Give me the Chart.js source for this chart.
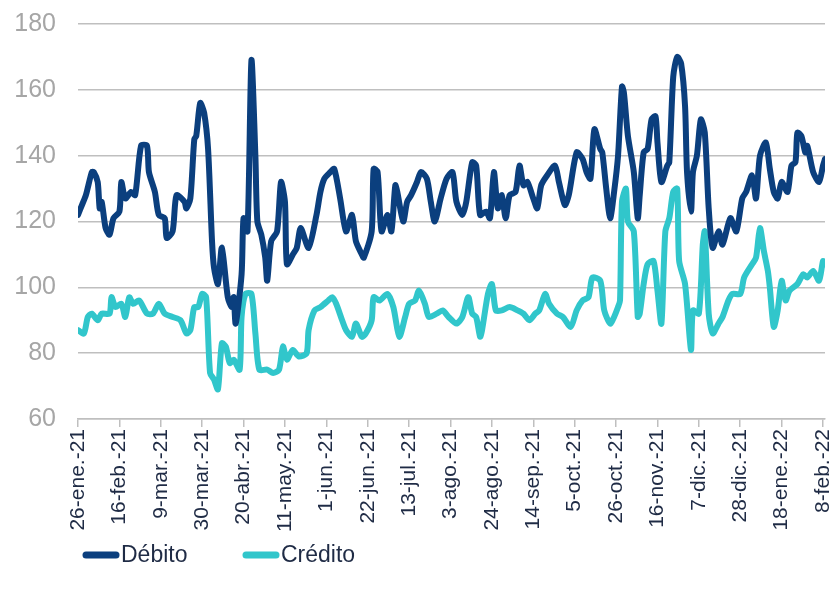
<!DOCTYPE html>
<html>
<head>
<meta charset="utf-8">
<script src="https://cdn.jsdelivr.net/npm/chart.js@4.4.1/dist/chart.umd.min.js"></script>
<style>
  html, body { margin: 0; padding: 0; background: #ffffff; }
  #wrap { width: 835px; height: 593px; }
</style>
</head>
<body>
<div id="wrap"><canvas id="tarjetas" width="835" height="593"></canvas></div>
<script>
// días desde el 26-ene-21
const etiquetasX = [
  "26-ene.-21", "16-feb.-21", "9-mar.-21", "30-mar.-21", "20-abr.-21", "11-may.-21",
  "1-jun.-21", "22-jun.-21", "13-jul.-21", "3-ago.-21", "24-ago.-21", "14-sep.-21",
  "5-oct.-21", "26-oct.-21", "16-nov.-21", "7-dic.-21", "28-dic.-21", "18-ene.-22", "8-feb.-22",
];
const ticksY = [60, 80, 100, 120, 140, 160, 180];

const debitoDias = [
  0, 2, 4, 7, 8, 10, 11, 12, 14, 16,
  18, 21, 22, 24, 27, 29, 32, 35, 36, 39,
  41, 44, 45, 48, 50, 54, 55, 57, 59, 60,
  62, 64, 66, 68, 69, 71, 73, 76, 78, 79,
  80, 83, 84, 86, 88, 90, 91, 93, 95, 96,
  98, 101, 103, 105, 106, 109, 111, 113, 117, 121,
  123, 125, 128, 130, 133, 136, 139, 141, 144, 145,
  149, 150, 152, 154, 157, 159, 161, 162, 165, 167,
  169, 172, 174, 177, 179, 181, 184, 187, 190, 192,
  195, 197, 200, 202, 204, 207, 209, 211, 213, 215,
  217, 219, 222, 224, 226, 228, 231, 233, 235, 238,
  242, 244, 247, 249, 253, 256, 258, 260, 262, 265,
  266, 268, 270, 272, 274, 276, 277, 279, 282, 284,
  285, 287, 289, 291, 293, 294, 296, 299, 300, 302,
  304, 306, 308, 309, 311, 312, 314, 316, 318, 320,
  322, 325, 327, 331, 334, 337, 339, 342, 344, 346,
  349, 351, 353, 355, 357, 360, 362, 364, 365, 367,
  369, 370, 373, 376, 378, 379,
];
const debitoValores = [
  122, 125, 128, 135, 135, 132, 124, 126, 118, 116,
  121, 123, 132, 127, 129, 128, 143, 143, 135, 129,
  122, 121, 115, 117, 128, 126, 124, 127, 145, 146,
  156, 153, 142, 114, 106, 101, 112, 97, 94, 97,
  89, 104, 121, 117, 169, 140, 120, 116, 109, 102,
  114, 117, 132, 126, 107, 110, 112, 118, 112, 122,
  129, 133, 135, 136, 127, 117, 122, 114, 110, 109,
  117, 136, 135, 117, 122, 117, 131, 129, 120, 126,
  128, 132, 135, 133, 126, 120, 127, 133, 135, 126,
  122, 126, 138, 137, 122, 123, 121, 135, 124, 128,
  121, 128, 129, 137, 131, 132, 127, 124, 131, 134,
  137, 132, 125, 128, 141, 139, 135, 133, 148, 142,
  141, 130, 121, 129, 140, 161, 159, 146, 135, 121,
  128, 141, 142, 151, 152, 144, 132, 137, 138, 164,
  170, 168, 155, 135, 123, 135, 140, 151, 147, 124,
  112, 117, 113, 121, 117, 127, 129, 134, 127, 140,
  144, 136, 129, 127, 132, 129, 137, 138, 147, 146,
  141, 143, 135, 132, 137, 139,
];

const creditoDias = [
  0, 3, 5, 7, 10, 12, 16, 17, 19, 22,
  24, 26, 28, 31, 35, 38, 41, 44, 48, 52,
  55, 57, 59, 61, 63, 65, 67, 69, 71, 73,
  75, 77, 79, 82, 83, 85, 88, 90, 92, 96,
  99, 102, 104, 106, 109, 112, 116, 117, 120, 123,
  127, 129, 131, 134, 136, 139, 141, 144, 146, 149,
  150, 153, 157, 160, 163, 166, 168, 171, 173, 176,
  178, 182, 185, 188, 192, 195, 198, 200, 202, 204,
  205, 208, 210, 212, 215, 219, 223, 226, 229, 232,
  234, 237, 239, 243, 246, 250, 253, 256, 259, 261,
  265, 267, 270, 272, 274, 275, 276, 278, 279, 282,
  284, 285, 287, 289, 292, 294, 296, 298, 300, 302,
  304, 305, 308, 311, 312, 315, 317, 318, 320, 322,
  325, 327, 330, 332, 336, 338, 342, 344, 346, 348,
  350, 351, 353, 355, 357, 359, 361, 365, 368, 370,
  373, 376, 378, 379,
];
const creditoValores = [
  87, 86, 91, 92, 90, 92, 92, 97, 94, 95,
  91, 97, 95, 96, 92, 92, 95, 92, 91, 90,
  86, 87, 94, 94, 98, 97, 74, 72, 69, 83,
  82, 77, 78, 75, 91, 98, 98, 86, 75, 75,
  74, 75, 82, 78, 81, 79, 80, 87, 93, 94,
  96, 97, 95, 90, 87, 85, 89, 85, 86, 90,
  97, 96, 98, 94, 85, 91, 95, 96, 99, 95,
  91, 92, 93, 91, 89, 91, 97, 92, 91, 85,
  87, 98, 101, 93, 93, 94, 93, 92, 90, 92,
  93, 98, 95, 92, 91, 88, 93, 96, 97, 103,
  102, 93, 89, 91, 94, 96, 126, 130, 120, 117,
  91, 92, 101, 107, 108, 99, 89, 117, 121, 129,
  130, 108, 101, 81, 93, 92, 113, 117, 92, 86,
  89, 91, 96, 98, 98, 103, 107, 109, 118, 111,
  105, 100, 88, 93, 102, 96, 99, 101, 104, 103,
  105, 102, 108, 107,
];

const colorDebito = "#0b3f7e";
const colorCredito = "#31c6cb";

function puntos(dias, valores) {
  return dias.map((d, i) => ({ x: d, y: valores[i] }));
}

// leyenda dibujada a mano, con la línea gruesa pegada al texto
const leyendaAbajo = {
  id: "leyendaAbajo",
  afterDraw(chart) {
    const ctx = chart.ctx;
    const y = 555;
    const items = [
      { text: "Débito", color: colorDebito, x: 86 },
      { text: "Crédito", color: colorCredito, x: 246 },
    ];
    ctx.save();
    ctx.font = "23px 'Liberation Sans', Arial, sans-serif";
    ctx.textBaseline = "middle";
    items.forEach((it) => {
      ctx.strokeStyle = it.color;
      ctx.lineWidth = 7;
      ctx.lineCap = "round";
      ctx.beginPath();
      ctx.moveTo(it.x, y);
      ctx.lineTo(it.x + 30, y);
      ctx.stroke();
      ctx.fillStyle = "#1f2b45";
      ctx.fillText(it.text, it.x + 35, y + 1);
    });
    ctx.restore();
  },
};

new Chart(document.getElementById("tarjetas"), {
  type: "line",
  plugins: [leyendaAbajo],
  data: {
    datasets: [
      {
        label: "Débito",
        data: puntos(debitoDias, debitoValores),
        borderColor: colorDebito,
        backgroundColor: colorDebito,
        borderWidth: 6,
        pointRadius: 0,
        tension: 0.25,
        borderCapStyle: "round",
        borderJoinStyle: "round",
      },
      {
        label: "Crédito",
        data: puntos(creditoDias, creditoValores),
        borderColor: colorCredito,
        backgroundColor: colorCredito,
        borderWidth: 6,
        pointRadius: 0,
        tension: 0.25,
        borderCapStyle: "round",
        borderJoinStyle: "round",
      },
    ],
  },
  options: {
    responsive: false,
    animation: false,
    layout: { padding: { top: 24, right: 10, left: 0, bottom: 0 } },
    plugins: {
      legend: { display: false },
      tooltip: { enabled: false },
    },
    scales: {
      x: {
        type: "linear",
        min: 0,
        max: 379,
        afterBuildTicks: (scale) => {
          scale.ticks = etiquetasX.map((t, i) => ({ value: i * 21 }));
        },
        afterFit: (scale) => {
          scale.height = 174;
          scale.paddingRight = 0;
          scale.paddingLeft = 0;
        },
        ticks: {
          autoSkip: false,
          minRotation: 90,
          maxRotation: 90,
          padding: 2,
          color: "#1f2b45",
          font: { family: "'Liberation Sans', Arial, sans-serif", size: 21 },
          callback: (value, index) => etiquetasX[index],
        },
        grid: {
          display: true,
          drawOnChartArea: false,
          drawTicks: true,
          tickLength: 8,
          color: "#bfbfbf",
          lineWidth: 1.5,
        },
        border: { display: true, color: "#bfbfbf", width: 1.5 },
      },
      y: {
        min: 60,
        max: 180,
        afterBuildTicks: (scale) => {
          scale.ticks = ticksY.map((v) => ({ value: v }));
        },
        afterFit: (scale) => {
          scale.width = 78;
          scale.paddingTop = 0;
          scale.paddingBottom = 0;
        },
        ticks: {
          padding: 22,
          color: "#a6a6a6",
          font: { family: "'Liberation Sans', Arial, sans-serif", size: 25 },
        },
        grid: {
          color: "#bfbfbf",
          lineWidth: 1.5,
          drawTicks: false,
        },
        border: { display: false },
      },
    },
  },
});
</script>
</body>
</html>
